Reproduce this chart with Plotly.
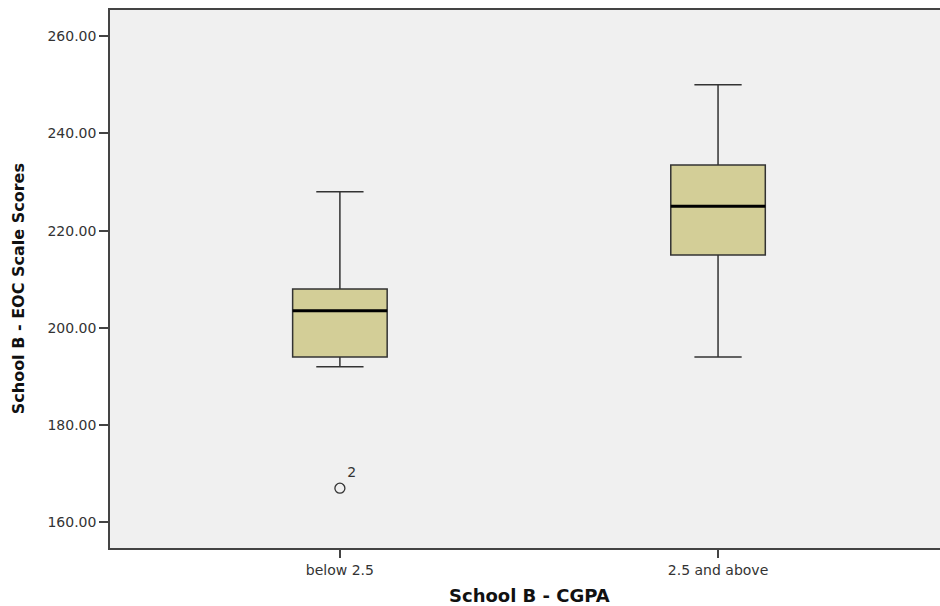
import plotly.graph_objects as go

# ---- data ----
categories = ["below 2.5", "2.5 and above"]
lower_whisker = [192.0, 194.0]
q1_values = [194.0, 215.0]
median_values = [203.5, 225.0]
q3_values = [208.0, 233.5]
upper_whisker = [228.0, 250.0]

outlier_category = ["below 2.5"]
outlier_values = [167.0]
outlier_ids = ["2"]

y_ticks = [160, 180, 200, 220, 240, 260]

FONT = "'DejaVu Sans', Arial, sans-serif"

fig = go.Figure()

fig.add_trace(go.Box(
    x=categories,
    q1=q1_values, median=median_values, q3=q3_values,
    lowerfence=lower_whisker, upperfence=upper_whisker,
    fillcolor="#d3ce97",
    line=dict(color="#333333", width=1.5),
    width=0.25,
    whiskerwidth=0.5,
    boxpoints=False,
    showlegend=False,
    hoverinfo="skip",
))

# thick black median line drawn as a flat box
fig.add_trace(go.Box(
    x=categories,
    q1=median_values, median=median_values, q3=median_values,
    lowerfence=median_values, upperfence=median_values,
    fillcolor="rgba(0,0,0,0)",
    line=dict(color="#000000", width=3),
    width=0.25,
    whiskerwidth=0,
    boxpoints=False,
    showlegend=False,
    hoverinfo="skip",
))

fig.add_trace(go.Scatter(
    x=outlier_category, y=outlier_values,
    mode="markers+text",
    text=outlier_ids,
    textposition="top right",
    textfont=dict(family=FONT, size=14, color="#333333"),
    marker=dict(symbol="circle-open", size=10, color="#333333", line=dict(width=1.3)),
    showlegend=False,
    hoverinfo="skip",
))

fig.update_layout(
    width=940, height=606,
    margin=dict(l=110, r=0, t=10, b=58),
    paper_bgcolor="white",
    plot_bgcolor="#f0f0f0",
    font=dict(family=FONT, size=13, color="#333333"),
    boxmode="overlay",
    xaxis=dict(
        type="category",
        categoryorder="array", categoryarray=categories,
        range=[-0.608, 1.587],
        showline=True, linecolor="#444444", linewidth=1.5, mirror=True,
        ticks="outside", ticklen=8, tickcolor="#444444", tickwidth=1.5,
        tickfont=dict(family=FONT, size=14, color="#333333"),
        showgrid=False, zeroline=False,
    ),
    yaxis=dict(
        range=[154.7, 265.4],
        tickvals=y_ticks, tickformat=".2f",
        showline=True, linecolor="#444444", linewidth=1.5, mirror=False,
        ticks="outside", ticklen=9, tickcolor="#444444", tickwidth=1.5,
        tickfont=dict(family=FONT, size=14, color="#333333"),
        showgrid=False, zeroline=False,
    ),
    annotations=[
        dict(text="<b>School B - EOC Scale Scores</b>", textangle=-90,
             xref="paper", yref="paper", x=-0.1108, y=0.481,
             xanchor="center", yanchor="middle", showarrow=False,
             font=dict(family=FONT, size=16, color="#111111")),
        dict(text="<b>School B - CGPA</b>",
             xref="paper", yref="paper", x=0.506, y=-0.0885,
             xanchor="center", yanchor="middle", showarrow=False,
             font=dict(family=FONT, size=18, color="#111111")),
    ],
)

fig.write_html("out.html", config={"displayModeBar": False},
               post_script="document.body.style.margin='0px';")
